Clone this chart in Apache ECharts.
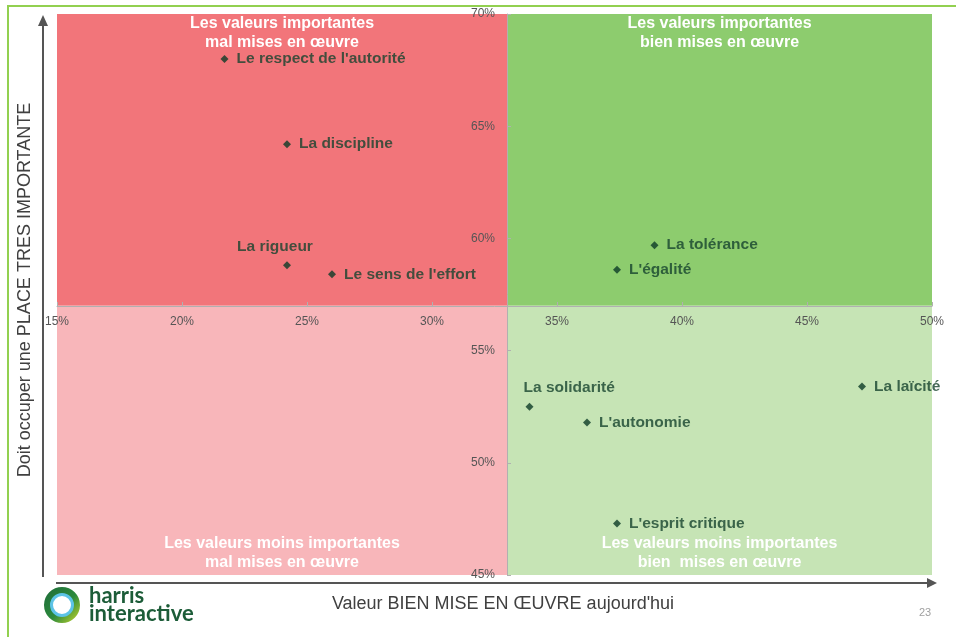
<!DOCTYPE html>
<html>
<head>
<meta charset="utf-8">
<script src="https://cdn.jsdelivr.net/npm/echarts@6/dist/echarts.min.js"></script>
<style>
  html, body { margin: 0; padding: 0; background: #fff; }
  #main { width: 956px; height: 637px; }
</style>
</head>
<body>
<div id="main"></div>
<script>
// valeurs
var names = ["Le respect de l'autorité", 'La discipline', 'La rigueur', "Le sens de l'effort",
  'La tolérance', "L'égalité", 'La solidarité', "L'autonomie", 'La laïcité', "L'esprit critique"]
var bienMise = [21.7, 24.2, 24.2, 26.0, 38.9, 37.4, 33.9, 36.2, 47.2, 37.4]   // x
var importante = [68.0, 64.2, 58.8, 58.4, 59.7, 58.6, 52.5, 51.8, 53.4, 47.3] // y
var xTicks = [15, 20, 25, 30, 35, 40, 45, 50]
var yTicks = [45, 50, 55, 60, 65, 70]
var xSplit = 33
var ySplit = 57
var quadLabels = [
  'Les valeurs importantes\nmal mises en œuvre',
  'Les valeurs importantes\nbien mises en œuvre',
  'Les valeurs moins importantes\nmal mises en œuvre',
  'Les valeurs moins importantes\nbien  mises en œuvre'
]

var font = 'Liberation Sans, Arial, sans-serif'
var labelColor = '#17432e'
var points = []
for (var i = 0; i < names.length; i++) {
  var item = { name: names[i], value: [bienMise[i], importante[i]] }
  // deux étiquettes placées au-dessus du point
  if (names[i] === 'La rigueur') {
    item.label = { position: 'top', distance: 7, offset: [-12, 0] }
  } else if (names[i] === 'La solidarité') {
    item.label = { position: 'top', distance: 7, align: 'left', offset: [-6, 0] }
  }
  points.push(item)
}

function quad(x0, y0, x1, y1, color, text, pos) {
  return [{
    coord: [x0, y0],
    itemStyle: { color: color },
    label: {
      show: true, position: pos, distance: pos === 'insideTop' ? 0 : 3,
      formatter: text, color: '#fff', fontSize: 16, fontWeight: 'bold',
      lineHeight: 19, fontFamily: font
    }
  }, { coord: [x1, y1] }]
}

var myChart = echarts.init(document.getElementById('main'))
myChart.setOption({
  animation: false,
  grid: { left: 57, right: 24, top: 14, bottom: 62 },
  xAxis: {
    type: 'value', min: xTicks[0], max: xTicks[xTicks.length - 1], interval: 5,
    position: 'bottom', offset: -269, z: 5,
    axisLine: { show: true, lineStyle: { color: '#b0b0b0', width: 1 } },
    axisTick: { show: true, inside: true, length: 4, lineStyle: { color: '#b0b0b0' } },
    axisLabel: { formatter: '{value}%', color: '#555', fontSize: 12, margin: 10, fontFamily: font },
    splitLine: { show: false }
  },
  yAxis: {
    type: 'value', min: yTicks[0], max: yTicks[yTicks.length - 1], interval: 5,
    position: 'left', offset: -450, z: 5,
    axisLine: { show: true, lineStyle: { color: '#b0b0b0', width: 1 } },
    axisTick: { show: true, inside: true, length: 4, lineStyle: { color: '#b0b0b0' } },
    axisLabel: { formatter: '{value}%', color: '#555', fontSize: 12, margin: 12, fontFamily: font },
    splitLine: { show: false }
  },
  series: [{
    type: 'scatter',
    symbol: 'diamond',
    symbolSize: 8,
    itemStyle: { color: '#0d3b27' },
    label: {
      show: true, position: 'right', distance: 8,
      formatter: '{b}', color: labelColor, fontSize: 15.5, fontWeight: 'bold',
      fontFamily: font
    },
    data: points,
    markArea: {
      silent: true,
      data: [
        quad(15, ySplit, xSplit, 70, '#f2757a', quadLabels[0], 'insideTop'),
        quad(xSplit, ySplit, 50, 70, '#8dcc6e', quadLabels[1], 'insideTop'),
        quad(15, 45, xSplit, ySplit, '#f8b6ba', quadLabels[2], 'insideBottom'),
        quad(xSplit, 45, 50, ySplit, '#c6e4b5', quadLabels[3], 'insideBottom')
      ]
    }
  }],
  graphic: [
    // cadre vert
    { type: 'polyline', shape: { points: [[8, 637], [8, 6], [956, 6]] }, style: { stroke: '#92d050', lineWidth: 2, fill: null } },
    // flèches des axes
    { type: 'line', shape: { x1: 43, y1: 577, x2: 43, y2: 22 }, style: { stroke: '#555', lineWidth: 2 } },
    { type: 'polygon', shape: { points: [[43, 15], [38, 26], [48, 26]] }, style: { fill: '#555' } },
    { type: 'line', shape: { x1: 56, y1: 583, x2: 930, y2: 583 }, style: { stroke: '#555', lineWidth: 2 } },
    { type: 'polygon', shape: { points: [[937, 583], [927, 578], [927, 588]] }, style: { fill: '#555' } },
    // titres
    {
      type: 'text', x: 25, y: 290, rotation: Math.PI / 2, originX: 0, originY: 0,
      style: { text: 'Doit occuper une PLACE TRES IMPORTANTE', fill: '#404040', fontSize: 18,
        fontFamily: font, align: 'center', verticalAlign: 'middle' }
    },
    {
      type: 'text', x: 503, y: 604,
      style: { text: "Valeur BIEN MISE EN ŒUVRE aujourd'hui", fill: '#404040', fontSize: 18,
        fontFamily: font, align: 'center', verticalAlign: 'middle' }
    },
    {
      type: 'text', x: 925, y: 613,
      style: { text: '23', fill: '#a0a0a0', fontSize: 11, fontFamily: font,
        align: 'center', verticalAlign: 'middle' }
    },
    // logo harris interactive
    {
      type: 'ring', shape: { cx: 62, cy: 605, r: 18, r0: 11 },
      style: {
        fill: new echarts.graphic.LinearGradient(0, 0, 1, 1, [
          { offset: 0, color: '#1e6b3a' }, { offset: 0.55, color: '#2c8a3c' }, { offset: 1, color: '#c8d62a' }
        ])
      }
    },
    {
      type: 'ring', shape: { cx: 62, cy: 605, r: 12, r0: 9 },
      style: { fill: '#5cc3e6' }
    },
    {
      type: 'text', x: 89, y: 596,
      style: { text: 'harris', fill: '#1c5c38', fontSize: 22, fontWeight: 'bold', fontFamily: 'Lato, sans-serif', verticalAlign: 'middle' }
    },
    {
      type: 'text', x: 89, y: 614,
      style: { text: 'interactive', fill: '#1c5c38', fontSize: 22, fontWeight: 'bold', fontFamily: 'Lato, sans-serif', verticalAlign: 'middle' }
    }
  ]
})
</script>
</body>
</html>
